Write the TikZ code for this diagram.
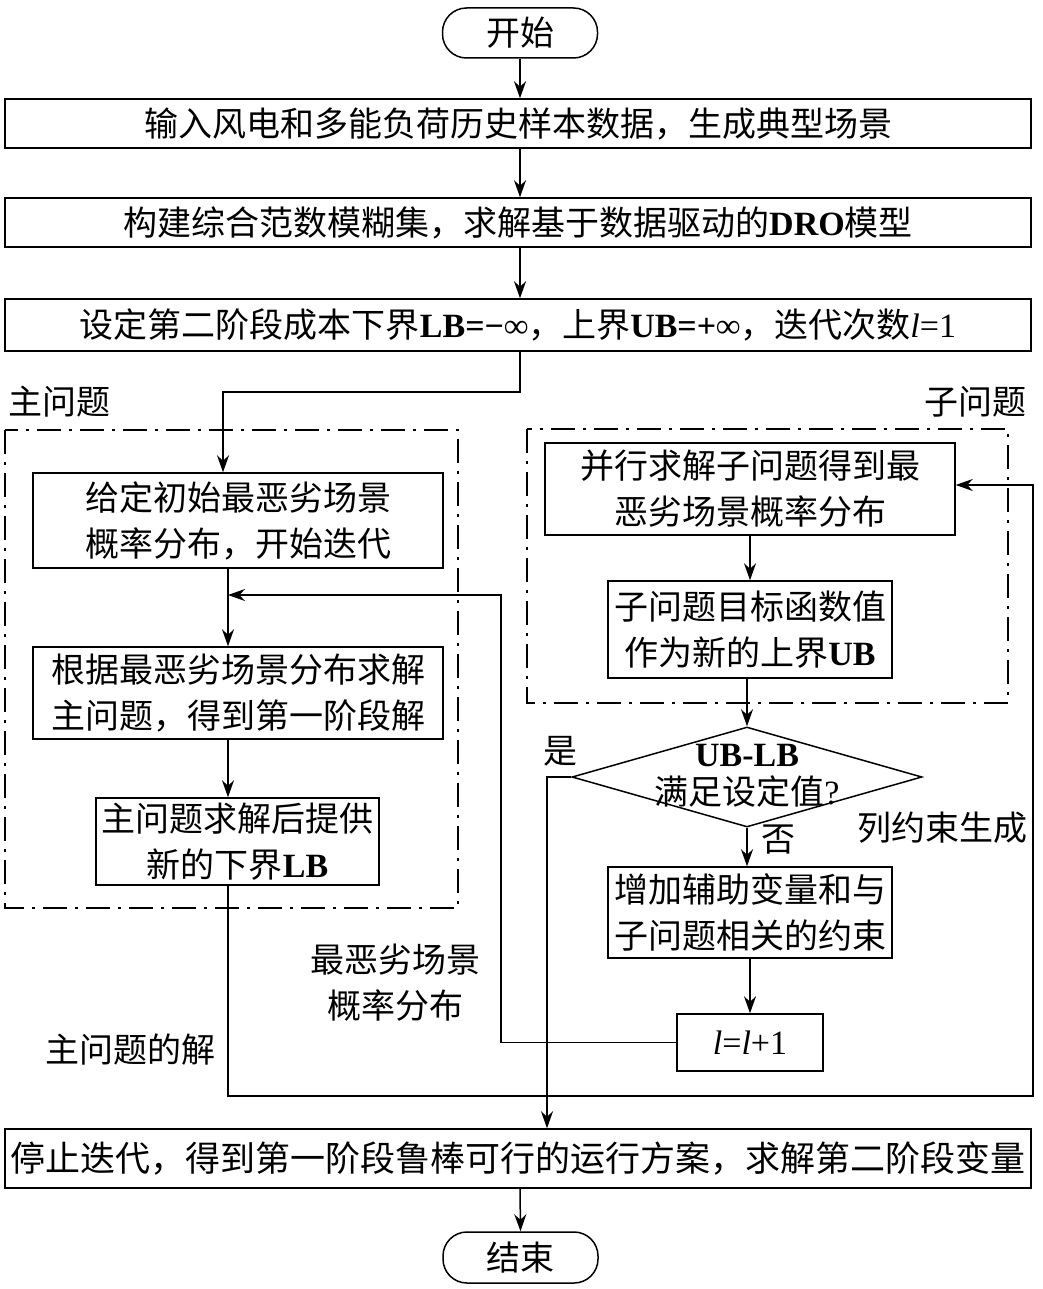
\documentclass[tikz,border=0pt]{standalone}
\usepackage{fontspec}
\setmainfont{Noto Sans CJK SC}
\newfontfamily\latfont{Liberation Serif}
\newcommand{\LatT}[1]{{\latfont #1}}
\newcommand{\LatB}[1]{{\latfont\bfseries #1}}
\usetikzlibrary{arrows.meta,shapes.geometric,calc}
\begin{document}
\begin{tikzpicture}[x=1pt,y=-1pt,
  every node/.style={font=\fontsize{34}{46}\selectfont},
  box/.style={draw, line width=1.5pt, inner sep=0pt, align=center},
  term/.style={box, rounded corners=24pt},
  arr/.style={line width=1.5pt, -{Stealth[length=17pt,width=12pt]}},
  ln/.style={line width=1.5pt},
  group/.style={draw, line width=1.5pt, dash pattern=on 24pt off 8pt on 3pt off 8pt},
  lab/.style={align=center, inner sep=0pt}
]
\useasboundingbox (0,0) rectangle (1042,1289);

% main column
\node[term, minimum width=155pt, minimum height=50pt] (start) at (520,33) {开始};
\node[box, minimum width=1026pt, minimum height=49pt] (b1) at (518,123.5) {输入风电和多能负荷历史样本数据，生成典型场景};
\node[box, minimum width=1026pt, minimum height=49pt] (b2) at (518,222.5) {构建综合范数模糊集，求解基于数据驱动的\LatB{DRO}模型};
\node[box, minimum width=1026pt, minimum height=52pt] (b3) at (518,325) {设定第二阶段成本下界\LatB{LB=−∞}，上界\LatB{UB=+∞}，迭代次数\LatT{\textit{l}=1}};

% groups
\draw[group] (5,430) rectangle (458,908);
\draw[group] (527,429) rectangle (1008,703);
\node[lab] (lmain) at (60,402) {主问题};
\node[lab] (lsub) at (975,402) {子问题};

% left column
\node[box, minimum width=410pt, minimum height=95pt] (l1) at (238,520.5) {给定初始最恶劣场景\\概率分布，开始迭代};
\node[box, minimum width=410pt, minimum height=92pt] (l2) at (238,693) {根据最恶劣场景分布求解\\主问题，得到第一阶段解};
\node[box, minimum width=283pt, minimum height=87pt] (l3) at (237.5,841.5) {主问题求解后提供\\新的下界\LatB{LB}};

% right column
\node[box, minimum width=410pt, minimum height=92pt] (r1) at (750,489) {并行求解子问题得到最\\恶劣场景概率分布};
\node[box, minimum width=284pt, minimum height=97pt] (r2) at (750,629.5) {子问题目标函数值\\作为新的上界\LatB{UB}};
\node[draw, shape=diamond, line width=1.5pt, inner sep=0pt, minimum width=350pt, minimum height=100pt] (d) at (747,777) {};
\node[lab, font=\fontsize{34}{38}\selectfont] (dt) at (747,776) {\LatB{UB-LB}\\满足设定值\LatT{?}};
\node[box, minimum width=284pt, minimum height=91pt] (r3) at (750,912.5) {增加辅助变量和与\\子问题相关的约束};
\node[box, minimum width=146pt, minimum height=57pt] (r4) at (750,1042.5) {\LatT{\textit{l}=\textit{l}+1}};

% bottom
\node[box, minimum width=1026pt, minimum height=59pt, font=\fontsize{35}{40}\selectfont] (fin) at (518,1158.5) {停止迭代，得到第一阶段鲁棒可行的运行方案，求解第二阶段变量};
\node[term, minimum width=155pt, minimum height=51pt] (end) at (520.5,1257.5) {结束};

% labels
\node[lab] (yes) at (560,751) {是};
\node[lab] (no) at (778,840) {否};
\node[lab] (ccg) at (942,828) {列约束生成};
\node[lab] (wcase) at (395,983) {最恶劣场景\\概率分布};
\node[lab] (msol) at (130,1050) {主问题的解};

% coordinates
\coordinate (xl) at (228,0);
\coordinate (c1) at (223,392);
\coordinate (fbx) at (501,0);
\coordinate (fby) at (0,595);
\coordinate (rx) at (1033,0);
\coordinate (by) at (0,1096);
\coordinate (yx) at (547,0);

% connectors
\draw[arr] (start.south -| 520,0) -- (b1.north -| 520,0);
\draw[arr] (b1.south -| 520,0) -- (b2.north -| 520,0);
\draw[arr] (b2.south -| 520,0) -- (b3.north -| 520,0);
\draw[arr] (b3.south -| 520,0) |- (c1) -- (c1 |- l1.north);
\draw[arr] (l1.south -| xl) -- (l2.north -| xl);
\draw[arr] (l2.south -| xl) -- (l3.north -| xl);
\draw[arr] (l3.south -| xl) -- (xl |- by) -- (rx |- by) -- (rx |- 0,485) -- (r1.east |- 0,485);
\draw[arr] (r1.south) -- (r2.north);
\draw[arr] (r2.south -| d.north) -- (d.north);
\draw[arr] (d.south) -- (r3.north -| d.south);
\draw[arr] (r3.south) -- (r4.north);
\draw[arr] (r4.west) -- (fbx |- r4.west) -- (fbx |- fby) -- (xl |- fby);
\draw[arr] (d.west) -- (yx |- d.west) -- (yx |- fin.north);
\draw[arr] (fin.south -| 520,0) -- (end.north);
\end{tikzpicture}
\end{document}
